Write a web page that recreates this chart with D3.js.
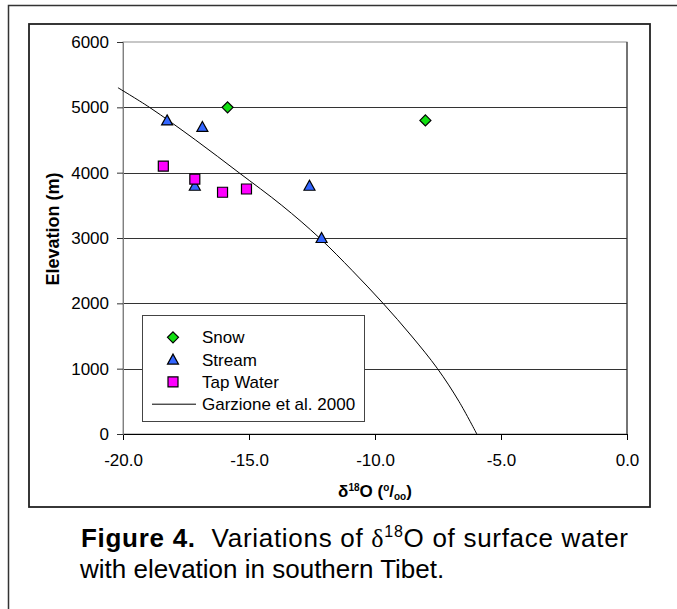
<!DOCTYPE html>
<html><head><meta charset="utf-8">
<script src="https://cdn.jsdelivr.net/npm/d3@7"></script>
<style>
html,body{margin:0;padding:0;background:#fff;}
svg{display:block;font-family:"Liberation Sans",Arial,Helvetica,sans-serif;}
</style></head>
<body>
<svg id="chart" width="677" height="609"></svg>
<script>
// ---- data ----
const snowX = [-15.85, -8.0];
const snowY = [5000, 4800];
const streamX = [-18.25, -16.85, -17.15, -12.6, -12.12];
const streamY = [4800, 4700, 3800, 3800, 3000];
const tapX = [-18.4, -17.15, -16.05, -15.1];
const tapY = [4100, 3900, 3700, 3750];
const garzElev = [0, 500, 1000, 1500, 2000, 2500, 3000, 3500, 4000, 4500, 5000, 5300];
const garzD18O = [-5.96, -6.67, -7.52, -8.55, -9.68, -10.9, -12.2, -13.7, -15.4, -17.12, -18.95, -20.2];
const xTicks = [-20, -15, -10, -5, 0];
const yTicks = [0, 1000, 2000, 3000, 4000, 5000, 6000];
const legendLabels = ["Snow", "Stream", "Tap Water", "Garzione et al. 2000"];

const svg = d3.select("#chart");
const L = 123, R = 627, T = 42, B = 434;
const x = d3.scaleLinear().domain([-20, 0]).range([L, R]);
const y = d3.scaleLinear().domain([0, 6000]).range([B, T]);

// outer frame
svg.append("path").attr("d", `M8.5,612 L8.5,5.5 L680,5.5`).attr("fill","none").attr("stroke","#333").attr("stroke-width",1.5);
// inner frame
svg.append("rect").attr("x",29).attr("y",24).attr("width",621).attr("height",483)
  .attr("fill","none").attr("stroke","#222").attr("stroke-width",1.8);

// plot area border
svg.append("rect").attr("x",L).attr("y",T).attr("width",R-L).attr("height",B-T)
  .attr("fill","none").attr("stroke","#909090").attr("stroke-width",1);
svg.append("line").attr("x1",R).attr("x2",R).attr("y1",T).attr("y2",B).attr("stroke","#222").attr("stroke-width",1);

// gridlines
svg.append("g").selectAll("line").data(yTicks.filter(d => d > 0 && d < 6000)).join("line")
  .attr("x1", L).attr("x2", R).attr("y1", d => Math.round(y(d))+0.5).attr("y2", d => Math.round(y(d))+0.5)
  .attr("stroke","#333").attr("stroke-width",1);

// axes
const xAxis = d3.axisBottom(x).tickValues(xTicks).tickFormat(d3.format(".1f")).tickSizeOuter(0).tickSize(6).tickPadding(14);
const gx = svg.append("g").attr("transform",`translate(0,${B})`).call(xAxis);
gx.select(".domain").attr("stroke","#000");
gx.selectAll(".tick line").attr("stroke","#000");
gx.selectAll("text").attr("font-size",17).attr("font-family","Liberation Sans, Arial, sans-serif").attr("fill","#000")
  .text(d => d3.format(".1f")(d).replace("−","-"));

const yAxis = d3.axisLeft(y).tickValues(yTicks).tickFormat(d3.format("d")).tickSizeOuter(0).tickSize(6).tickPadding(8);
const gy = svg.append("g").attr("transform",`translate(${L},0)`).call(yAxis);
gy.select(".domain").attr("stroke","#808080");
gy.selectAll(".tick line").attr("stroke","#333");
gy.selectAll("text").attr("font-size",17).attr("font-family","Liberation Sans, Arial, sans-serif").attr("fill","#000");

// axis titles
svg.append("text").attr("transform","translate(59,229) rotate(-90)").attr("text-anchor","middle")
  .attr("font-size",18).attr("font-weight","bold").text("Elevation (m)");
const xt = svg.append("text").attr("x",375).attr("y",497).attr("text-anchor","middle")
  .attr("font-size",17).attr("font-weight","bold");
xt.append("tspan").text("δ");
xt.append("tspan").attr("font-size",10).attr("dy",-6).text("18");
xt.append("tspan").attr("dy",6).text("O (");
xt.append("tspan").attr("font-size",10).attr("dy",-6).text("o");
xt.append("tspan").attr("dy",6).text("/");
xt.append("tspan").attr("font-size",10).attr("dy",3).text("oo");
xt.append("tspan").attr("dy",-3).text(")");

// marker shapes
const diamond = (cx, cy) => `M${cx},${cy-5.5}L${cx+5.5},${cy}L${cx},${cy+5.5}L${cx-5.5},${cy}Z`;
const tri = (cx, cy) => `M${cx},${cy-5.5}L${cx+5.5},${cy+4.5}L${cx-5.5},${cy+4.5}Z`;
const sq = (cx, cy) => `M${cx-5},${cy-5}h10v10h-10Z`;

// Garzione line
const line = d3.line().x((d,i) => x(garzD18O[i])).y(d => y(d)).curve(d3.curveCatmullRom.alpha(0.5));
svg.append("path").attr("d", line(garzElev)).attr("fill","none").attr("stroke","#000").attr("stroke-width",1);

// points
svg.append("g").selectAll("path").data(snowX).join("path")
  .attr("d",(d,i) => diamond(x(d), y(snowY[i]))).attr("fill","#11e011").attr("stroke","#000").attr("stroke-width",1.2);
svg.append("g").selectAll("path").data(streamX).join("path")
  .attr("d",(d,i) => tri(x(d), y(streamY[i]))).attr("fill","#3366ff").attr("stroke","#000").attr("stroke-width",1.2);
svg.append("g").selectAll("path").data(tapX).join("path")
  .attr("d",(d,i) => sq(x(d), y(tapY[i]))).attr("fill","#ff00ff").attr("stroke","#000").attr("stroke-width",1.2);

// legend
const lg = svg.append("g");
lg.append("rect").attr("x",142.5).attr("y",315.5).attr("width",222).attr("height",106)
  .attr("fill","#fff").attr("stroke","#444").attr("stroke-width",1);
const rows = [337.3, 359.6, 381.9, 404.2];
lg.append("path").attr("d", diamond(173, rows[0])).attr("fill","#11e011").attr("stroke","#000").attr("stroke-width",1.2);
lg.append("path").attr("d", tri(173, rows[1])).attr("fill","#3366ff").attr("stroke","#000").attr("stroke-width",1.2);
lg.append("path").attr("d", sq(173, rows[2])).attr("fill","#ff00ff").attr("stroke","#000").attr("stroke-width",1.2);
lg.append("line").attr("x1",152).attr("x2",196).attr("y1",rows[3]).attr("y2",rows[3]).attr("stroke","#000").attr("stroke-width",1);
lg.selectAll("text.lab").data(legendLabels).join("text").attr("class","lab")
  .attr("x",202).attr("y",(d,i) => rows[i]).attr("dy","0.35em").attr("font-size",17).text(d => d);

// caption
const c1 = svg.append("text").attr("x",81).attr("y",547).attr("font-size",26)
  .attr("textLength",547).attr("lengthAdjust","spacing");
c1.append("tspan").attr("font-weight","bold").text("Figure 4.");
c1.append("tspan").text("\u00a0\u00a0Variations of ");
c1.append("tspan").attr("font-family","Liberation Serif, Times New Roman, serif").text("δ");
c1.append("tspan").attr("font-size",16).attr("dy",-10).text("18");
c1.append("tspan").attr("dy",10).text("O of surface water");
svg.append("text").attr("x",80).attr("y",578).attr("font-size",26).text("with elevation in southern Tibet.");
</script>
</body></html>
